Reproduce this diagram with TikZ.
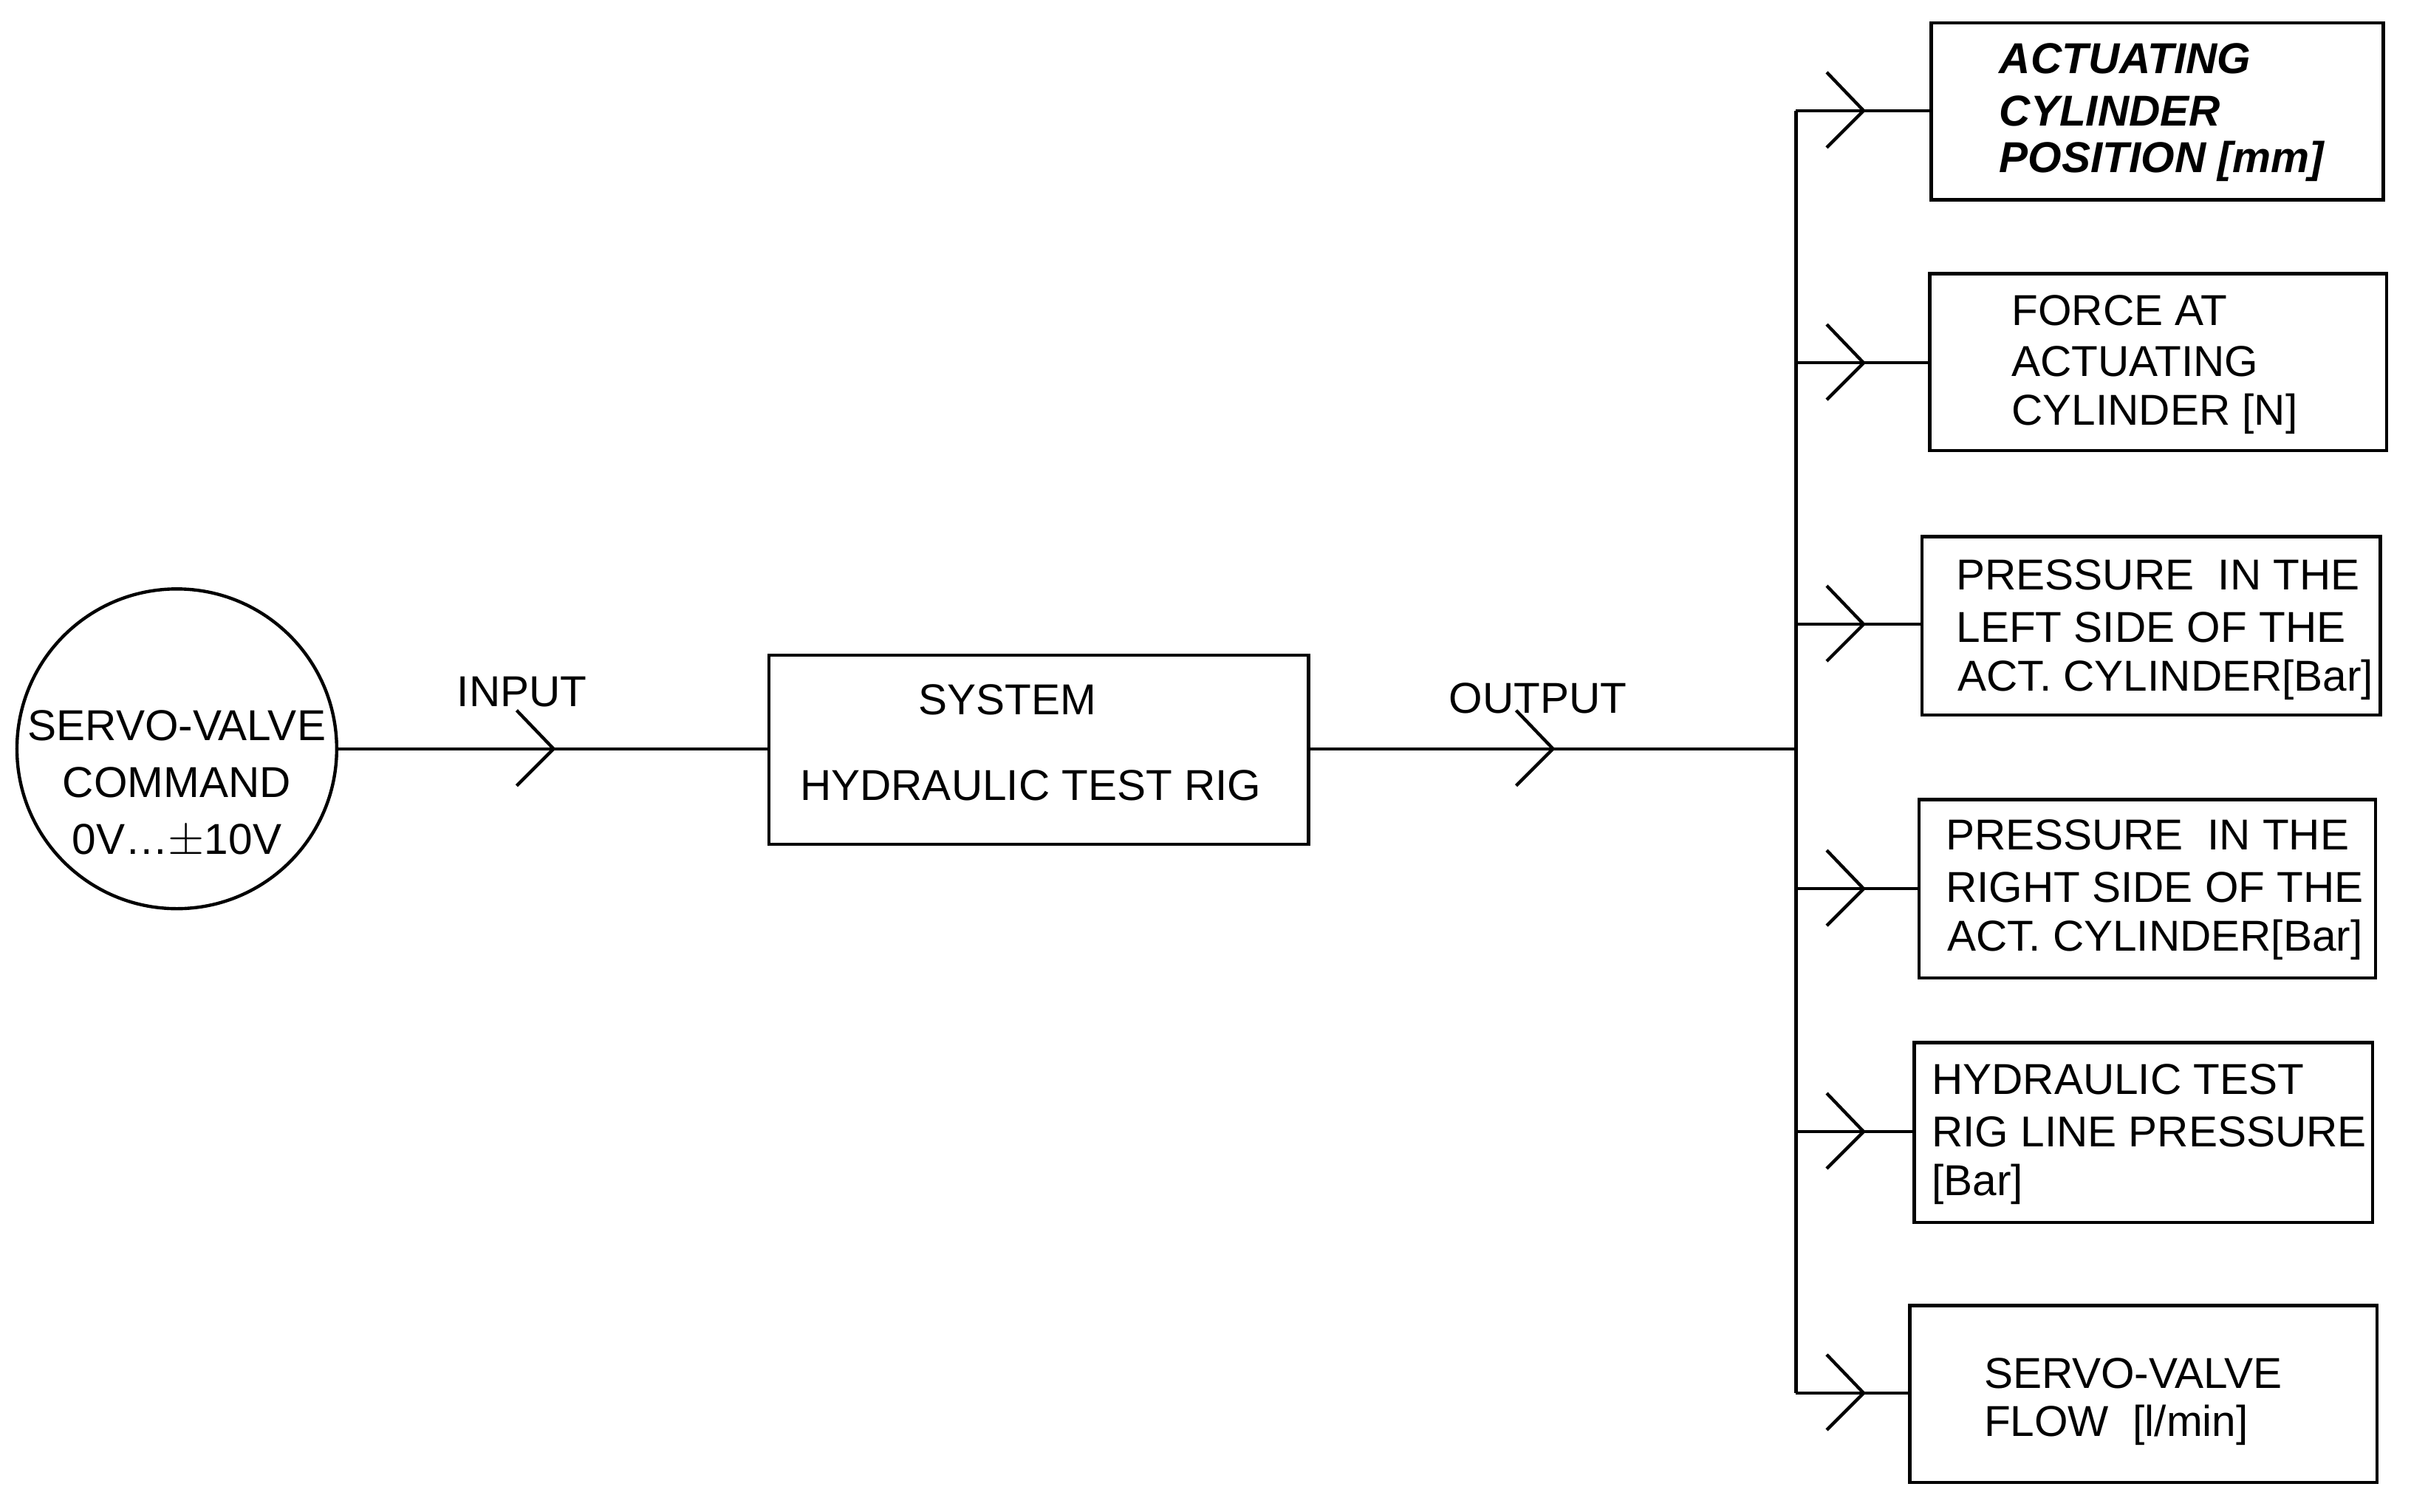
\documentclass[tikz,border=0pt]{standalone}
\usepackage{fontspec}
\setmainfont{Liberation Sans}
\begin{document}
\begin{tikzpicture}[x=0.02cm,y=-0.02cm,
  box/.style={draw,line width=1.2pt},
  txt/.style={anchor=west,inner sep=0,font=\fontsize{16}{20}\selectfont},
  ln/.style={line width=1.2pt},
  chev/.style={line width=1.2pt}]
\useasboundingbox (0,0) rectangle (1568,983);
\newcommand\chev[1]{\draw[chev] (#1)++(-24,-25) -- (#1) -- ++(-24,24);}
% circle
\node[draw,circle,line width=1.2pt,minimum size=4.16cm,inner sep=0] (cmd) at (115,487) {};
\node[anchor=center,align=center,font=\fontsize{16}{22}\selectfont] at (115,510) {SERVO-VALVE\\[-1pt]COMMAND\\[-1pt]0V\ldots$\pm$10V};
% system box
\draw[box] (500,426) rectangle (851,549);
\coordinate (sysw) at (500,487); \coordinate (syse) at (851,487);
\node[txt] at (597,455) {SYSTEM};
\node[txt] at (520,511) {HYDRAULIC TEST RIG};
\draw[ln] (cmd.east) -- (sysw);
\coordinate (c1) at (360,487); \chev{c1}
\node[txt] at (297,450) {INPUT};
\coordinate (bus) at (1168,487);
\draw[ln] (syse) -- (bus);
\coordinate (c2) at (1010,487); \chev{c2}
\node[txt] at (942,454) {OUTPUT};
\coordinate (top) at (1168,72); \coordinate (bot) at (1168,906);
\draw[ln] (top) -- (bot);
% output boxes
\foreach \i/\y/\xa/\ya/\xb/\yb in {1/72/1256/15/1550/130, 2/236/1255/178/1552/293, 3/406/1250/349/1548/465, 4/578/1248/520/1545/636, 5/736/1245/678/1543/795, 6/906/1242/849/1546/964}{
  \draw[box] (\xa,\ya) rectangle (\xb,\yb);
  \coordinate (b\i) at (\xa,\y);
  \coordinate (s\i) at (1168,\y);
  \draw[ln] (s\i) -- (b\i);
  \coordinate (h\i) at (1212,\y); \chev{h\i}
}
\node[txt,font=\fontsize{16}{20}\selectfont\bfseries\itshape] at (1300,38) {ACTUATING};
\node[txt,font=\fontsize{16}{20}\selectfont\bfseries\itshape] at (1300,72) {CYLINDER};
\node[txt,font=\fontsize{16}{20}\selectfont\bfseries\itshape] at (1300,105) {POSITION [mm]};
\node[txt] at (1308,202) {FORCE AT};
\node[txt] at (1308,235) {ACTUATING};
\node[txt] at (1308,269) {CYLINDER [N]};
\node[txt] at (1272,374) {PRESSURE\ \ IN THE};
\node[txt] at (1272,408) {LEFT SIDE OF THE};
\node[txt] at (1273,442) {ACT. CYLINDER[Bar]};
\node[txt] at (1265,543) {PRESSURE\ \ IN THE};
\node[txt] at (1265,577) {RIGHT SIDE OF THE};
\node[txt] at (1266,611) {ACT. CYLINDER[Bar]};
\node[txt] at (1256,702) {HYDRAULIC TEST};
\node[txt] at (1256,736) {RIG LINE PRESSURE};
\node[txt] at (1256,770) {[Bar]};
\node[txt] at (1290,893) {SERVO-VALVE};
\node[txt] at (1290,927) {FLOW\ \ [l/min]};
\end{tikzpicture}
\end{document}
